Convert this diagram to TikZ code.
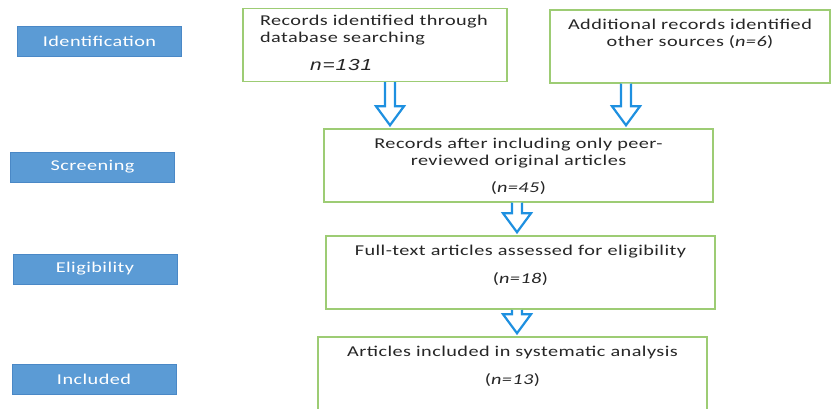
\documentclass[tikz,border=0pt]{standalone}
\usepackage{fontspec}
\setmainfont{Carlito}[FakeStretch=1.35,LetterSpace=3]
\newfontfamily\numfont{Liberation Sans}[FakeStretch=1.3,LetterSpace=6]
\definecolor{KBlue}{HTML}{5B9BD5}
\definecolor{KBlueEdge}{HTML}{4A88C6}
\definecolor{KGreen}{HTML}{9DCC74}
\definecolor{KArrow}{HTML}{1E90E0}
\definecolor{KText}{HTML}{262626}
\usetikzlibrary{calc}
\newcommand{\flowtext}[2]{% {width}{lines}
  \parbox[c][73pt][t]{#1}{\centering\vspace*{9pt}#2}}

\begin{document}
\begin{tikzpicture}[x=1pt,y=-1pt,
  every node/.style={font=\fontsize{15}{17}\selectfont,text=KText},
  stage/.style={fill=KBlue,draw=KBlueEdge,line width=0.8pt,text=white,
                minimum width=164pt,minimum height=30pt,inner sep=0pt},
  flowbox/.style={draw=KGreen,line width=1.5pt,fill=white,inner sep=0pt},
  hollowarrow/.style={draw=KArrow,line width=2.2pt,fill=white,line join=miter,
    to path={let \p1=(\tikztostart), \p2=(\tikztotarget) in
      (\x1-5pt,\y1) -- (\x1-5pt,\y2+22pt) -- (\x1-14pt,\y2+22pt) -- (\x1,\y2+3pt)
      -- (\x1+14pt,\y2+22pt) -- (\x1+5pt,\y2+22pt) -- (\x1+5pt,\y1)}}]
  \useasboundingbox (0,0) rectangle (831,409);
  \clip (0,0) rectangle (831,409);

  % stages on the left
  \node[stage] (idt) at (99.5,41.5) {Identification};
  \node[stage] (scr) at (92.5,167) {Screening};
  \node[stage] (elg) at (95,269) {Eligibility};
  \node[stage] (inc) at (94,379) {Included};

  % flow boxes
  \node[flowbox] (rec) at (375,45) {%
    \parbox[c][73pt][t]{264pt}{\vspace*{7pt}\leftskip=17pt
      Records identified through\\
      database searching\\[11pt]
      \hspace*{50pt}{\fontsize{16}{17}\numfont\itshape n=131}}};
  \node[flowbox] (add) at (690,46.5) {\flowtext{280pt}{%
      Additional records identified\\
      other sources (\textit{n=6})}};
  \node[flowbox] (aft) at (518.5,165.5) {\flowtext{389pt}{%
      Records after including only peer-\\
      reviewed original articles\\[10pt]
      (\textit{n=45})}};
  \node[flowbox] (ful) at (520.5,272.5) {\flowtext{389pt}{%
      Full-text articles assessed for eligibility\\[11pt]
      (\textit{n=18})}};
  \node[flowbox] (art) at (512.5,373.5) {\flowtext{389pt}{%
      Articles included in systematic analysis\\[11pt]
      (\textit{n=13})}};

  % block arrows
  \draw[hollowarrow] ([xshift=15pt]rec.south) to ([xshift=15pt]rec.south |- aft.north);
  \draw[hollowarrow] ([xshift=-64pt]add.south) to ([xshift=-64pt]add.south |- aft.north);
  \draw[hollowarrow] ([xshift=-1.5pt]aft.south) to ([xshift=-1.5pt]aft.south |- ful.north);
  \draw[hollowarrow] ([xshift=-3.5pt]ful.south) to ([xshift=-3.5pt]ful.south |- art.north);
\end{tikzpicture}
\end{document}
